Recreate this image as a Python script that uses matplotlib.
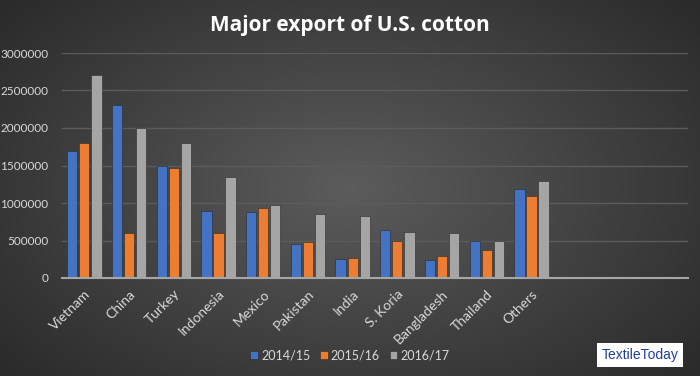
import numpy as np
import matplotlib
matplotlib.use("Agg")
import matplotlib.pyplot as plt

# data
countries = ["Vietnam", "China", "Turkey", "Indonesia", "Mexico", "Pakistan", "India",
             "S. Koria", "Bangladesh", "Thailand", "Others", "", "", ""]
s2014 = [1700000, 2300000, 1500000, 900000, 880000, 450000, 250000, 640000, 240000, 490000, 1190000]
s2015 = [1800000, 600000, 1470000, 600000, 940000, 480000, 270000, 500000, 300000, 370000, 1100000]
s2016 = [2700000, 2000000, 1800000, 1350000, 980000, 850000, 830000, 620000, 600000, 500000, 1300000]
series = [("2014/15", s2014, "#4472C4"), ("2015/16", s2015, "#ED7D31"), ("2016/17", s2016, "#A5A5A5")]
yticks = [0, 500000, 1000000, 1500000, 2000000, 2500000, 3000000]

fig = plt.figure(figsize=(7, 3.76), dpi=100)

# radial dark gradient background
bg = fig.add_axes([0, 0, 1, 1], zorder=-10)
yy, xx = np.mgrid[0:1:200j, 0:1:370j]
r = np.sqrt(((xx - 0.5) / 0.75) ** 2 + ((yy - 0.5) / 0.85) ** 2)
shade = np.clip(0.36 - 0.22 * r, 0.15, 0.36)
bg.imshow(np.dstack([shade] * 3), aspect="auto", extent=[0, 1, 0, 1])
bg.axis("off")

ax = fig.add_axes([62 / 700, 1 - 278 / 376, (688 - 62) / 700, (278 - 53) / 376])
ax.set_facecolor("none")

x = np.arange(len(countries))
w = 0.23
for i, (name, vals, col) in enumerate(series):
    xs = x[:len(vals)] + (i - 1) * 0.27
    ax.bar(xs, vals, width=w, color=col, label=name, zorder=3,
           edgecolor="#2a2a2a", linewidth=0.4)

ax.set_xlim(-0.5, len(countries) - 0.5)
ax.set_ylim(0, 3000000)
ax.set_yticks(yticks)
ax.set_yticklabels([str(v) for v in yticks], color="#d9d9d9", fontsize=8.5, family="Lato")
ax.set_xticks(x)
ax.set_xticklabels(countries, rotation=45, ha="right", rotation_mode="anchor",
                   color="#d9d9d9", fontsize=10, family="Lato")
ax.tick_params(axis="y", length=0, pad=10)
ax.tick_params(axis="x", length=0, pad=7)
ax.grid(axis="y", color="#5c5c5c", linewidth=1, zorder=0)
for s in ["top", "right", "left"]:
    ax.spines[s].set_visible(False)
ax.spines["bottom"].set_color("#a6a6a6")
ax.spines["bottom"].set_linewidth(1.5)
ax.spines["bottom"].set_zorder(4)

fig.text(0.5, 1 - 25 / 376, "Major export of U.S. cotton", ha="center", va="center",
         color="white", fontsize=15, fontweight="bold", family="Open Sans")

leg = fig.legend(loc="center", bbox_to_anchor=(0.5, 1 - 355 / 376), ncol=3, frameon=False,
                 prop={"family": "Lato", "size": 9}, handlelength=0.6, handleheight=0.6,
                 handletextpad=0.25, columnspacing=0.8)
for t in leg.get_texts():
    t.set_color("#d9d9d9")

fig.text(640 / 700, 1 - 355 / 376, "TextileToday", ha="center", va="center",
         color="#1f3d99", fontsize=10, family="Liberation Sans",
         bbox=dict(facecolor="white", edgecolor="none", boxstyle="square,pad=0.35"))

fig.savefig("out.png", dpi=100)
plt.close(fig)
